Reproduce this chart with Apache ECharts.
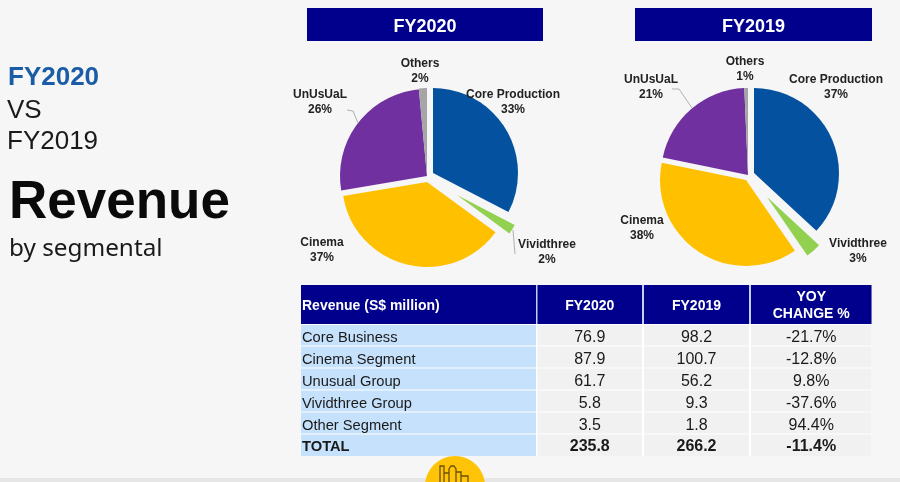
<!DOCTYPE html>
<html><head><meta charset="utf-8">
<style>html,body{margin:0;padding:0;background:#f6f6f6}#c{width:900px;height:482px}</style>
<script src="https://cdn.jsdelivr.net/npm/echarts@6/dist/echarts.min.js"></script>
</head><body><div id="c"></div>
<script>
var pieNames = ['Core Production','Vividthree','Cinema','UnUsUaL','Others'];
var pieColors = ['#04529f','#92d050','#ffc000','#7030a0','#a5a5a5'];
var values2020 = [76.9,5.8,87.9,61.7,3.5];
var values2019 = [98.2,9.3,100.7,56.2,1.8];
var shares2020 = [33,2,37,26,2];
var shares2019 = [37,3,38,21,1];
var headers = ['Revenue (S$ million)','FY2020','FY2019','YOY\nCHANGE %'];
var rowNames = ['Core Business','Cinema Segment','Unusual Group','Vividthree Group','Other Segment','TOTAL'];
var col2020 = ['76.9','87.9','61.7','5.8','3.5','235.8'];
var col2019 = ['98.2','100.7','56.2','9.3','1.8','266.2'];
var colYoy = ['-21.7%','-12.8%','9.8%','-37.6%','94.4%','-11.4%'];

var FONT = '"Liberation Sans", Arial, sans-serif';
var NAVY = '#00008c';
var layout2020 = {
  slices:[[433,173,85],[457,195,65],[427,182,85],[427,176,87],[427,176,88]],
  labels:[[513,102],[547,252.5],[322,250.5],[320,102.5],[420,71.5]],
  lines:[[[347,110],[353,111],[358,123]],[[513,230],[515,254]]]
};
var layout2019 = {
  slices:[[754,173,85],[767,197,71],[746,180,86],[748,175,87],[748,175,87]],
  labels:[[836,87.5],[858,251.5],[642,228.5],[651,87.5],[745,69.5]],
  lines:[[[672,89],[679,89],[692,108]]]
};
function slices(values, lay){
  return values.map(function(_, i){
    var s = lay.slices[i];
    return {
      type:'pie', name:pieNames[i], center:[s[0],s[1]], radius:[0,s[2]],
      startAngle:90, clockwise:true, minAngle:0, silent:true, animation:false,
      label:{show:false}, labelLine:{show:false}, emphasis:{disabled:true},
      data:values.map(function(v,j){
        return {name:pieNames[j], value:v,
          itemStyle:{color:j===i?pieColors[j]:'rgba(0,0,0,0)', borderWidth:0}};
      })
    };
  });
}
var g = [];
function rect(x,y,w,h,fill,z){g.push({type:'rect',shape:{x:x,y:y,width:w,height:h},style:{fill:fill},z:z||1,silent:true});}
function text(x,y,t,size,weight,fill,align,font,lh){
  g.push({type:'text',x:x,y:y,z:20,silent:true,style:{text:t,font:weight+' '+size+'px '+(font||FONT),fill:fill,
    align:align||'center',verticalAlign:'middle',lineHeight:lh||Math.round(size*1.2)}});
}
// background bottom strip
rect(0,478,900,4,'#e6e6e6',0);
// left text
text(8,78,'FY2020',26,'bold','#1a5ca6','left');
text(7,111,'VS',26,'normal','#1a1a1a','left');
text(7,142,'FY2019',26,'normal','#1a1a1a','left');
text(9,203,'Revenue',53,'bold','#0a0a0a','left');
text(9,249,'by segmental',24.3,'normal','#1a1a1a','left','"Noto Sans", sans-serif');
// title bars
rect(307,8,236,33,NAVY); text(425,27,'FY2020',18,'bold','#ffffff');
rect(635,8,237,33,NAVY); text(753.5,27,'FY2019',18,'bold','#ffffff');
// pie labels + leaders
function pieText(lay, shares){
  pieNames.forEach(function(n,i){
    var p = lay.labels[i];
    text(p[0],p[1],n+'\n'+shares[i]+'%',12,'bold','#222222','center',FONT,15);
  });
  lay.lines.forEach(function(pts){
    g.push({type:'polyline',z:5,silent:true,shape:{points:pts},style:{stroke:'#b0b0b0',lineWidth:1,fill:null}});
  });
}
pieText(layout2020,shares2020);
pieText(layout2019,shares2019);
// table
var colX = [[301,235],[537.5,104.5],[644,105],[751,120.5]];
var rowY = [[325,20.5],[346.5,21],[368.5,21],[390.5,21],[412.5,21],[434.5,21.5]];
var rowTextY = [338,360,382,404,426,447];
rect(301,285,570.5,171,'#ffffff');
rect(301,285,570.5,39,'#c4cdf2',1.5);
headers.forEach(function(h,i){
  var c = colX[i];
  rect(c[0],285,c[1],39,NAVY,2);
  if(i===0) text(c[0]+1,306,h,14,'bold','#ffffff','left');
  else text(c[0]+c[1]/2,306,h,14,'bold','#ffffff','center',FONT,17);
});
rowNames.forEach(function(n,r){
  var y=rowY[r][0], h=rowY[r][1], bold=r===rowNames.length-1, w=bold?'bold':'normal', cy=rowTextY[r];
  rect(colX[0][0],y,colX[0][1],h,'#c6e1fb',2);
  text(colX[0][0]+1,cy,n,14.7,w,'#1a1a1a','left');
  [col2020,col2019,colYoy].forEach(function(col,k){
    var c=colX[k+1];
    rect(c[0],y,c[1],h,'#f1f1f1',2);
    text(c[0]+c[1]/2,cy,col[r],16,w,'#1a1a1a');
  });
});
// bottom badge
g.push({type:'circle',z:3,silent:true,shape:{cx:455,cy:486,r:30},style:{fill:'#ffc407'}});
g.push({type:'polyline',z:4,silent:true,shape:{points:[[440,482],[440,466],[444,466],[444,482],[444,473],[449,473],[449,482],[449,469],[451,466],[454,466],[456,469],[456,482],[456,472],[461,472],[461,482],[461,476],[468,476],[468,482]]},style:{stroke:'#6b5208',lineWidth:1.3,fill:null}});

var chart = echarts.init(document.getElementById('c'),null,{renderer:'canvas'});
chart.setOption({
  animation:false, backgroundColor:'#f6f6f6',
  series:slices(values2020,layout2020).concat(slices(values2019,layout2019)),
  graphic:{elements:g}
});
</script></body></html>
